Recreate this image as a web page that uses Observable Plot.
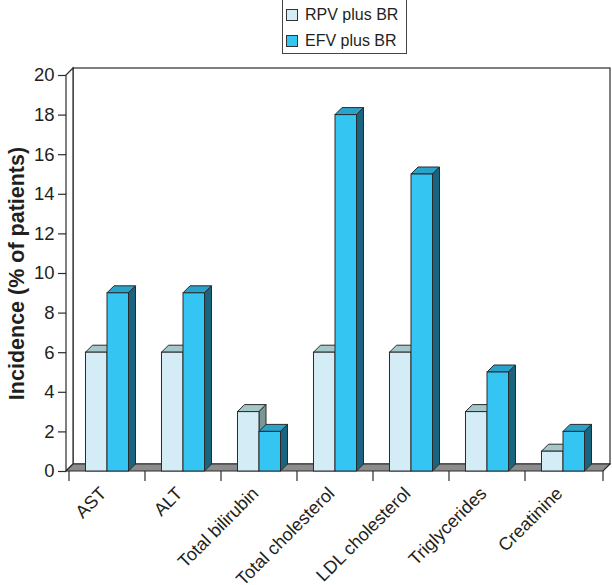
<!DOCTYPE html>
<html><head><meta charset="utf-8">
<script src="https://cdn.jsdelivr.net/npm/d3@7"></script>
<script src="https://cdn.jsdelivr.net/npm/@observablehq/plot@0.6"></script>
<style>
html,body{margin:0;padding:0;background:#fff;overflow:hidden;}
body{font-family:"Liberation Sans",Arial,sans-serif;color:#231f20;}
#wrap{position:relative;width:612px;height:585px;overflow:hidden;}
#wrap svg{display:block;}
#legend{position:absolute;left:282px;top:-1px;width:125px;height:55px;border:1.5px solid #444;background:#fff;box-sizing:border-box;z-index:2;}
.item{position:absolute;left:3px;height:20px;line-height:20px;font-family:"Liberation Sans",Arial,sans-serif;font-size:16px;white-space:nowrap;}
.sw{position:absolute;left:0;top:4px;width:12px;height:12px;border:1.3px solid #333;box-sizing:border-box;}
.lt{position:absolute;left:19px;top:0;}
</style></head><body>
<div id="wrap"><div id="legend"></div></div>
<script>
const categories = ["AST","ALT","Total bilirubin","Total cholesterol","LDL cholesterol","Triglycerides","Creatinine"];
const seriesNames = ["RPV plus BR","EFV plus BR"];
const rpvValues = [6,6,3,6,6,3,1];
const efvValues = [9,9,2,18,15,5,2];
const yTicks = [0,2,4,6,8,10,12,14,16,18,20];
const yLabel = "Incidence (% of patients)";

const palette = {
  "RPV plus BR": {front:"#d4ecf6", top:"#a6c7ca", side:"#7a9797"},
  "EFV plus BR": {front:"#35c5f3", top:"#28a3cc", side:"#1b6480"}
};
const D = 7;
const INK = "#2b2b2b";

const rpvData = categories.map((c,i)=>({cat:c, value:rpvValues[i], series:seriesNames[0]}));
const efvData = categories.map((c,i)=>({cat:c, value:efvValues[i], series:seriesNames[1]}));

function bar3d(seriesIndex){
  const col = palette[seriesNames[seriesIndex]];
  return function(index, scales, values, dimensions){
    const g = d3.create("svg:g");
    const bw = scales.x.bandwidth ? scales.x.bandwidth() : (dimensions.width-dimensions.marginLeft-dimensions.marginRight)/categories.length;
    const outer = bw*0.217, barW = bw*0.283;
    for (const i of index){
      const xa = values.x[i] + outer + seriesIndex*barW, xb = xa + barW;
      const y0 = values.y1[i], yv = values.y2[i];
      g.append("path").attr("d",`M${xa},${yv}L${xa+D},${yv-D}L${xb+D},${yv-D}L${xb},${yv}Z`)
        .attr("fill",col.top).attr("stroke",INK).attr("stroke-width",1).attr("stroke-linejoin","round");
      g.append("path").attr("d",`M${xb},${yv}L${xb+D},${yv-D}L${xb+D},${y0-D}L${xb},${y0}Z`)
        .attr("fill",col.side).attr("stroke",INK).attr("stroke-width",1).attr("stroke-linejoin","round");
      g.append("rect").attr("x",xa).attr("y",yv).attr("width",barW).attr("height",y0-yv)
        .attr("fill",col.front).attr("stroke",INK).attr("stroke-width",1);
    }
    return g.node();
  };
}

function frame(index, scales){
  const g = d3.create("svg:g").attr("stroke",INK).attr("stroke-width",1.2).attr("fill","none");
  const [xl, xr] = scales.x.range();
  const y0 = scales.y(0), yt = scales.y(20);
  g.append("rect").attr("x",xl+D).attr("y",yt-D).attr("width",xr-xl).attr("height",y0-yt).attr("fill","#fff");
  g.append("path").attr("d",`M${xl},${y0}L${xl},${yt}L${xl+D},${yt-D}L${xl+D},${y0-D}Z`).attr("fill","#fff");
  g.append("path").attr("d",`M${xl},${y0}L${xr},${y0}L${xr+D},${y0-D}L${xl+D},${y0-D}Z`).attr("fill","#8c8c8c");
  const bounds = categories.map(c=>scales.x(c)).concat([xr]);
  for (const b of bounds) g.append("line").attr("x1",b).attr("x2",b).attr("y1",y0).attr("y2",y0+10);
  return g.node();
}

const chart = Plot.plot({
  width: 612, height: 585,
  marginLeft: 66, marginRight: 9, marginTop: 75, marginBottom: 114,
  style: {fontFamily: '"Liberation Sans", Arial, sans-serif', color: "#231f20", background: "#fff"},
  x: {type: "band", domain: categories, padding: 0},
  y: {domain: [0, 20]},
  marks: [
    frame,
    Plot.barY(rpvData, {x: "cat", y: "value", render: bar3d(0)}),
    Plot.barY(efvData, {x: "cat", y: "value", render: bar3d(1)}),
    Plot.axisY({ticks: yTicks, tickSize: 8, tickPadding: 4, fontSize: 18.5, label: null, stroke: INK, strokeWidth: 1.2}),
    Plot.axisX({tickSize: 0, tickRotate: -45, tickPadding: 19, dx: -4, fontSize: 18, label: null}),
    Plot.text([yLabel], {frameAnchor: "left", y: [10], text: d => d, rotate: -90, textAnchor: "middle", dx: -49, fontSize: 21.5, fontWeight: "bold", fill: "#231f20"})
  ]
});
document.getElementById("wrap").appendChild(chart);

const legend = document.getElementById("legend");
seriesNames.forEach((s,i)=>{
  const it = document.createElement("div");
  it.className = "item";
  it.style.top = (5 + i*26) + "px";
  const sw = document.createElement("div");
  sw.className = "sw"; sw.style.background = palette[s].front;
  const tx = document.createElement("span"); tx.className = "lt"; tx.textContent = s;
  it.appendChild(sw); it.appendChild(tx);
  legend.appendChild(it);
});
</script></body></html>
